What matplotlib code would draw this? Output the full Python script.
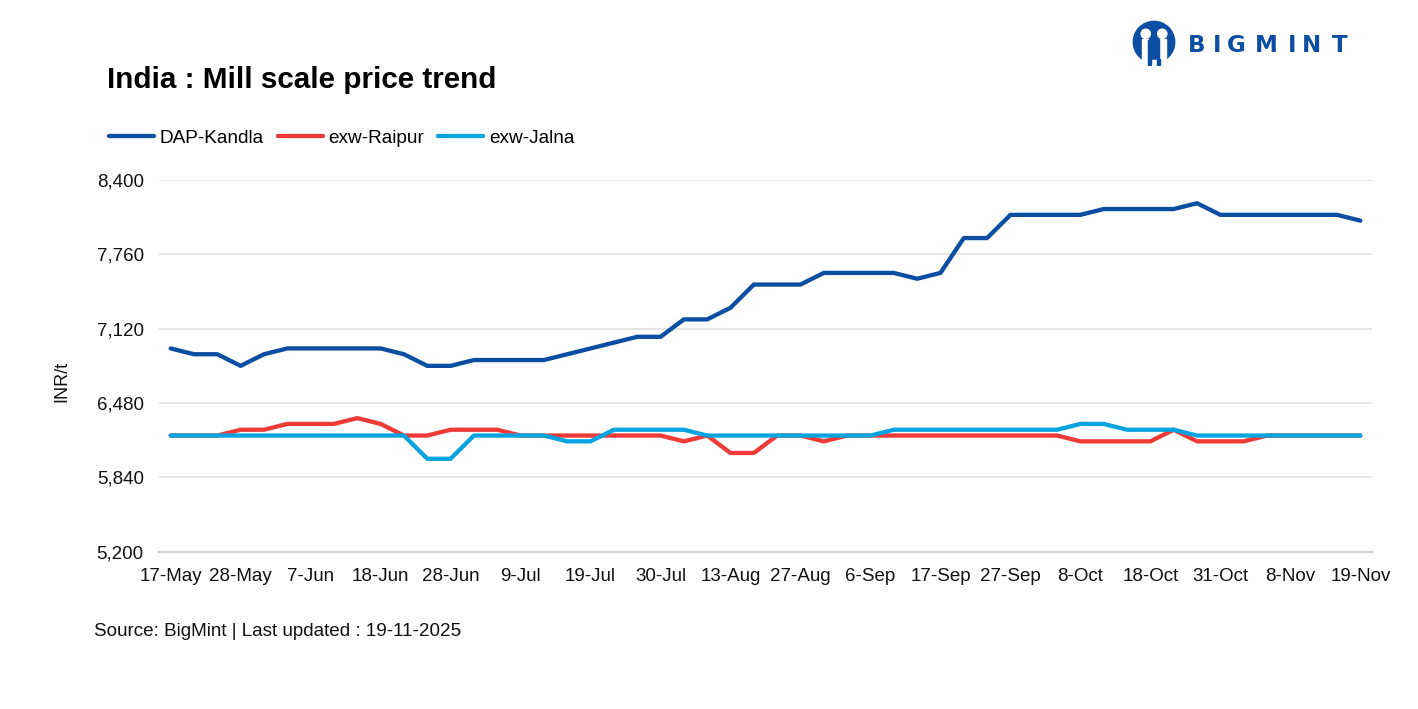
import matplotlib.pyplot as plt
from matplotlib.patches import Circle, Rectangle, Polygon
import numpy as np

plt.rcParams['font.family'] = ['Liberation Sans', 'DejaVu Sans']

# weekly-ish price points, INR/t
kandla = [6950, 6900, 6900, 6800, 6900, 6950, 6950, 6950, 6950, 6950, 6900, 6800, 6800,
          6850, 6850, 6850, 6850, 6900, 6950, 7000, 7050, 7050, 7200, 7200, 7300, 7500,
          7500, 7500, 7600, 7600, 7600, 7600, 7550, 7600, 7900, 7900, 8100, 8100, 8100,
          8100, 8150, 8150, 8150, 8150, 8200, 8100, 8100, 8100, 8100, 8100, 8100, 8050]
raipur = [6200, 6200, 6200, 6250, 6250, 6300, 6300, 6300, 6350, 6300, 6200, 6200, 6250,
          6250, 6250, 6200, 6200, 6200, 6200, 6200, 6200, 6200, 6150, 6200, 6050, 6050,
          6200, 6200, 6150, 6200, 6200, 6200, 6200, 6200, 6200, 6200, 6200, 6200, 6200,
          6150, 6150, 6150, 6150, 6250, 6150, 6150, 6150, 6200, 6200, 6200, 6200, 6200]
jalna = [6200, 6200, 6200, 6200, 6200, 6200, 6200, 6200, 6200, 6200, 6200, 6000, 6000,
         6200, 6200, 6200, 6200, 6150, 6150, 6250, 6250, 6250, 6250, 6200, 6200, 6200,
         6200, 6200, 6200, 6200, 6200, 6250, 6250, 6250, 6250, 6250, 6250, 6250, 6250,
         6300, 6300, 6250, 6250, 6250, 6200, 6200, 6200, 6200, 6200, 6200, 6200, 6200]
tick_labels = ['17-May', '28-May', '7-Jun', '18-Jun', '28-Jun', '9-Jul', '19-Jul', '30-Jul',
               '13-Aug', '27-Aug', '6-Sep', '17-Sep', '27-Sep', '8-Oct', '18-Oct', '31-Oct',
               '8-Nov', '19-Nov']
yticks = [5200, 5840, 6480, 7120, 7760, 8400]

W, H = 1418, 709
fig = plt.figure(figsize=(W / 100, H / 100), dpi=100)


def px(x, y):
    return x / W, 1 - y / H


ax = fig.add_axes([159 / W, 1 - 551.7 / H, (1372 - 159) / W, (551.7 - 180) / H])
x = np.arange(len(kandla))
ax.plot(x, kandla, color='#0b4ea2', lw=3.1, label='DAP-Kandla', solid_capstyle='round', zorder=3)
ax.plot(x, raipur, color='#ee3b37', lw=3.1, label='exw-Raipur', solid_capstyle='round', zorder=3)
ax.plot(x, jalna, color='#08a4e0', lw=3.1, label='exw-Jalna', solid_capstyle='round', zorder=3)

ax.set_xlim(-0.5, len(kandla) - 0.5)
ax.set_ylim(5200, 8400)
ax.set_yticks(yticks)
ax.set_yticklabels([f'{v:,}' for v in yticks])
ax.set_xticks(np.arange(0, len(kandla), 3))
ax.set_xticklabels(tick_labels)
ax.tick_params(axis='both', length=0, labelsize=13.5, colors='#111111')
ax.tick_params(axis='x', pad=12)
ax.tick_params(axis='y', pad=11)
ax.grid(axis='y', color='#e4e4e4', lw=1.3)
ax.set_axisbelow(True)
for s in ['top', 'right', 'left']:
    ax.spines[s].set_visible(False)
ax.spines['bottom'].set_color('#d4d4d4')
ax.spines['bottom'].set_linewidth(1.6)

fig.text(*px(62, 381), 'INR/t', rotation=90, ha='center', va='center', fontsize=13, color='#111111')

fig.text(*px(107, 80), 'India : Mill scale price trend', fontsize=21.3, fontweight='bold',
         ha='left', va='center', color='#000000')

leg = fig.legend(loc='center left', bbox_to_anchor=px(109, 138), ncol=3, frameon=False,
                 fontsize=13.7, handlelength=2.35, handletextpad=0.3, columnspacing=0.75,
                 borderpad=0, borderaxespad=0)

fig.text(*px(94, 632), 'Source: BigMint | Last updated : 19-11-2025', fontsize=13.6,
         ha='left', va='center', color='#111111')

# logo
logo_blue = '#0b4ea2'
ic = fig.add_axes([1131 / W, 1 - 66 / H, 46 / W, 46 / H])
ic.set_xlim(0, 1)
ic.set_ylim(0, 1)
ic.set_aspect('equal')
ic.axis('off')
ic.add_patch(Circle((0.5, 0.52), 0.45, color=logo_blue))
ic.add_patch(Circle((0.32, 0.70), 0.10, color='white'))
ic.add_patch(Circle((0.68, 0.70), 0.10, color='white'))
ic.add_patch(Rectangle((0.23, 0.16), 0.15, 0.42, color='white'))
ic.add_patch(Rectangle((0.62, 0.16), 0.15, 0.42, color='white'))
ic.add_patch(Polygon([[0.38, 0.56], [0.5, 0.33], [0.62, 0.56], [0.62, 0.05], [0.55, 0.05],
                      [0.5, 0.2], [0.45, 0.05], [0.38, 0.05]], closed=True, color=logo_blue))
ic.add_patch(Rectangle((0.0, 0.0), 1.0, 0.12, color='white'))
ic.add_patch(Rectangle((0.38, 0.03), 0.06, 0.12, color=logo_blue))
ic.add_patch(Rectangle((0.56, 0.03), 0.06, 0.12, color=logo_blue))

for letter, lx in zip('BIGMINT', [1188, 1213, 1227, 1255, 1288, 1302, 1332]):
    fig.text(*px(lx, 46), letter, fontsize=16.5, fontweight='bold', color=logo_blue,
             family='DejaVu Sans', ha='left', va='center')

fig.savefig('out.png', dpi=100)
